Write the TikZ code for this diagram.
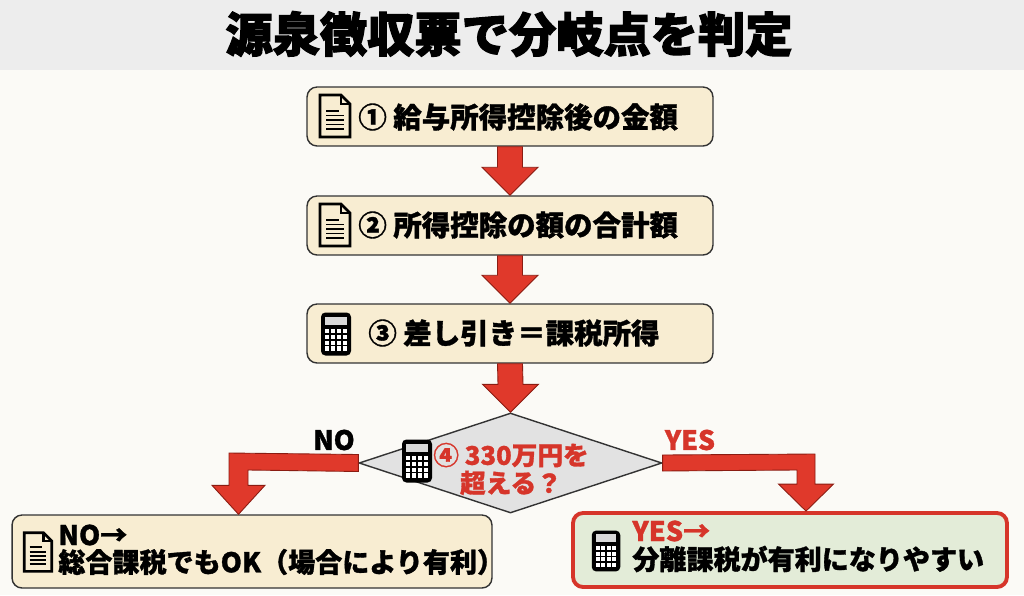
\documentclass[tikz,border=0pt]{standalone}
\usepackage{fontspec}
\setmainfont{Noto Sans CJK JP}[BoldFeatures={FakeBold=1.2}]
\newfontfamily\titlefont{Noto Sans CJK JP}[BoldFeatures={FakeBold=2.4}]
\usetikzlibrary{shapes.geometric,calc}

\definecolor{bgcol}{HTML}{FBFAF6}
\definecolor{bandcol}{HTML}{EDEDED}
\definecolor{creamcol}{HTML}{F8EDD2}
\definecolor{greencol}{HTML}{E3ECD8}
\definecolor{diacol}{HTML}{E2E2E2}
\definecolor{redcol}{HTML}{E0392B}
\definecolor{darkredcol}{HTML}{8A1C12}
\definecolor{textred}{HTML}{D6352A}
\definecolor{linecol}{HTML}{333333}

\tikzset{
  stepbox/.style={draw=linecol, line width=0.8pt, fill=creamcol, rounded corners=0.2cm,
    minimum width=8.12cm, minimum height=1.18cm, inner sep=0pt},
  boxtext/.style={font={\fontsize{16.2pt}{18pt}\selectfont\bfseries}, anchor=west, inner sep=0pt},
  endtext/.style={font={\fontsize{15.4pt}{17pt}\selectfont\bfseries}, anchor=west, inner sep=0pt},
  redarrow/.style={fill=redcol, draw=darkredcol, line width=0.5pt, line join=miter},
  docicon/.pic={
    \draw[black, line width=1.5pt, line join=miter] (-15,-21) -- (6,-21) -- (15,-12) -- (15,21) -- (-15,21) -- cycle;
    \draw[black, line width=1.2pt, line join=miter] (6,-21) -- (6,-12) -- (15,-12);
    \draw[black, line width=1.1pt] (-9,-5) -- (4,-5);
    \foreach \ly in {-0.5,4,8.5,13} \draw[black, line width=1.1pt] (-9,\ly) -- (9,\ly);
  },
  calcicon/.pic={
    \fill[black, rounded corners=2.5] (-15,-21.5) rectangle (15,21.5);
    \fill[white!85!black] (-11,-17.5) rectangle (11,-9);
    \foreach \i in {0,...,3}
      \foreach \j in {0,...,3}
        \fill[white] ({-11+\i*5.9},{-5+\j*5.8}) rectangle +(4.3,4.3);
  }
}

\begin{document}
\begin{tikzpicture}[x=0.02cm, y=-0.02cm]
\useasboundingbox (0,0) rectangle (1024,595);
\fill[bgcol] (0,0) rectangle (1024,595);
\fill[bandcol] (0,0) rectangle (1024,70);

\node[font={\titlefont\fontsize{26.9pt}{30pt}\selectfont\bfseries}] (title) at (509,34) {源泉徴収票で分岐点を判定};

% three steps
\node[stepbox] (b1) at (510,116.5) {};
\node[stepbox] (b2) at (510,225.5) {};
\node[stepbox] (b3) at (510,333.5) {};

\pic at (335,116) {docicon};
\pic at (335,225) {docicon};
\pic at (336,334) {calcicon};

\node[boxtext] (t1) at (358,117) {① 給与所得控除後の金額};
\node[boxtext] (t2) at (358,225) {② 所得控除の額の合計額};
\node[boxtext] (t3) at (368,333) {③ 差し引き＝課税所得};

% question
\node[diamond, draw=linecol, line width=0.8pt, fill=diacol, minimum width=6.06cm,
  minimum height=2cm, inner sep=0pt] (dia) at (510.5,463) {};
\pic at (417,461) {calcicon};
\node[font={\fontsize{14.6pt}{15.9pt}\selectfont\bfseries}, text=textred, align=center,
  inner sep=0pt] (t4) at (511,469) {④ 330万円を\\超える？};

\node[font={\fontsize{15.2pt}{16pt}\selectfont\bfseries}] (nolab) at (334,440) {NO};
\node[font={\fontsize{15.2pt}{16pt}\selectfont\bfseries}, text=textred] (yeslab) at (690,440) {YES};

% results
\node[stepbox, minimum width=9.6cm, minimum height=1.46cm] (nobox) at (252,551.5) {};
\node[stepbox, draw=textred, line width=2.2pt, fill=greencol, minimum width=8.68cm,
  minimum height=1.48cm] (yesbox) at (790,550) {};

\pic[scale=0.92] at (38,552) {docicon};
\pic[scale=0.95] at (606,551) {calcicon};

\node[endtext] (n1) at (58,535) {NO→};
\node[endtext] (n2) at (58,562) {総合課税でもOK（場合により有利）};
\node[endtext, text=textred] (y1) at (632,531) {YES→};
\node[endtext] (y2) at (632,559) {分離課税が有利になりやすい};

% arrows
\draw[redarrow] ($(b1.south)+(-12.5,0)$) -- ($(b1.south)+(12.5,0)$) -- ($(b2.north)+(12.5,-28)$)
  -- ($(b2.north)+(28,-28)$) -- (b2.north) -- ($(b2.north)+(-28,-28)$) -- ($(b2.north)+(-12.5,-28)$) -- cycle;
\draw[redarrow] ($(b2.south)+(-12.5,0)$) -- ($(b2.south)+(12.5,0)$) -- ($(b3.north)+(12.5,-28)$)
  -- ($(b3.north)+(28,-28)$) -- (b3.north) -- ($(b3.north)+(-28,-28)$) -- ($(b3.north)+(-12.5,-28)$) -- cycle;
\draw[redarrow] ($(b3.south)+(-12.5,0)$) -- ($(b3.south)+(12.5,0)$) -- ($(dia.north)+(12.5,-28)$)
  -- ($(dia.north)+(28,-28)$) -- (dia.north) -- ($(dia.north)+(-28,-28)$) -- ($(dia.north)+(-12.5,-28)$) -- cycle;

\coordinate (nobend) at (238.5,461.5);
\coordinate (notip) at (nobend |- nobox.north);
\draw[redarrow] ($(dia.west)+(0,-8.5)$) -- ($(nobend)+(-9.5,-8.5)$) -- ($(notip)+(-9.5,-29)$)
  -- ($(notip)+(-26.5,-29)$) -- (notip) -- ($(notip)+(26.5,-29)$) -- ($(notip)+(9.5,-29)$)
  -- ($(nobend)+(9.5,8.5)$) -- ($(dia.west)+(0,8.5)$) -- cycle;

\coordinate (yesbend) at (806,462);
\coordinate (yestip) at (yesbend |- yesbox.north);
\draw[redarrow] ($(dia.east)+(0,-8)$) -- ($(yesbend)+(9,-8)$) -- ($(yestip)+(9,-27)$)
  -- ($(yestip)+(27.5,-27)$) -- (yestip) -- ($(yestip)+(-27.5,-27)$) -- ($(yestip)+(-9,-27)$)
  -- ($(yesbend)+(-9,8)$) -- ($(dia.east)+(0,8)$) -- cycle;
\end{tikzpicture}
\end{document}
